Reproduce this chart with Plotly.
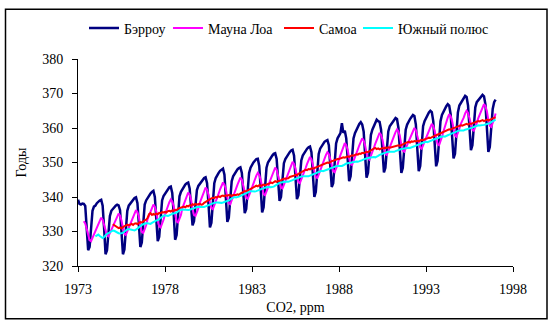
import plotly.graph_objects as go

# Monthly CO2 values (ppm)
barrow_start = (1973, 1)
barrow = [
    339.2, 338.0, 337.8, 338.1, 338.0, 337.4, 331.0, 324.6, 325.5, 332.0, 336.0, 337.2,  # 1973
    337.5, 338.2, 338.7, 339.0, 339.2, 337.5, 331.0, 323.4, 324.6, 330.5, 334.5, 336.0,  # 1974
    336.6, 337.0, 337.5, 337.8, 337.6, 336.2, 330.0, 323.4, 324.8, 332.0, 336.0, 337.5,  # 1975
    338.0, 338.8, 339.3, 339.7, 339.9, 338.2, 332.0, 325.5, 326.8, 333.5, 337.8, 339.0,  # 1976
    339.8, 340.5, 341.0, 341.5, 341.8, 340.0, 334.0, 327.2, 328.5, 335.0, 339.0, 340.3,  # 1977
    341.0, 341.8, 342.3, 342.8, 343.0, 341.2, 335.0, 327.6, 329.0, 336.0, 340.2, 341.5,  # 1978
    342.3, 343.0, 343.6, 344.0, 344.2, 342.5, 337.5, 331.8, 333.0, 338.5, 342.0, 343.2,  # 1979
    343.8, 344.5, 345.0, 345.5, 345.7, 344.0, 338.0, 331.2, 332.5, 339.5, 344.0, 345.5,  # 1980
    346.5, 347.0, 347.6, 348.0, 348.2, 346.5, 340.0, 332.8, 334.0, 340.5, 344.6, 346.0,  # 1981
    346.8, 347.5, 348.0, 348.4, 348.6, 347.0, 341.5, 335.3, 336.5, 343.0, 347.0, 348.5,  # 1982
    349.5, 350.0, 350.5, 351.0, 351.1, 349.0, 342.5, 335.5, 337.0, 344.0, 348.5, 350.0,  # 1983
    350.8, 351.5, 352.0, 352.5, 352.7, 351.0, 345.0, 338.9, 340.0, 346.0, 349.8, 351.0,  # 1984
    351.8, 352.5, 353.0, 353.5, 353.7, 352.0, 346.0, 339.4, 340.5, 347.0, 350.6, 352.0,  # 1985
    352.8, 353.4, 354.0, 354.4, 354.6, 353.0, 347.0, 340.0, 341.5, 348.0, 352.5, 354.0,  # 1986
    354.8, 355.4, 356.0, 356.3, 356.5, 355.0, 349.5, 342.9, 344.0, 351.0, 355.5, 357.0,  # 1987
    358.0, 358.5, 361.4, 358.6, 359.2, 357.0, 351.0, 344.6, 346.0, 352.5, 357.0, 358.5,  # 1988
    359.5, 360.5, 361.2, 361.7, 361.0, 359.0, 352.0, 345.6, 347.0, 353.5, 358.0, 359.5,  # 1989
    360.5, 361.5, 362.4, 362.0, 361.8, 359.5, 353.5, 347.1, 348.5, 354.5, 359.0, 360.5,  # 1990
    361.2, 361.8, 362.5, 362.9, 362.6, 360.0, 353.5, 347.0, 348.5, 355.0, 359.5, 361.0,  # 1991
    362.0, 362.6, 363.2, 363.8, 363.5, 361.0, 354.0, 347.5, 349.0, 355.5, 360.5, 362.0,  # 1992
    363.0, 363.8, 364.5, 365.0, 364.6, 362.0, 355.5, 348.9, 350.5, 357.5, 362.0, 363.8,  # 1993
    364.8, 365.5, 366.3, 366.9, 366.5, 364.0, 358.0, 351.2, 352.5, 359.5, 364.5, 366.5,  # 1994
    367.3, 368.0, 368.8, 369.3, 369.0, 366.5, 360.0, 353.6, 355.0, 361.5, 366.0, 367.5,  # 1995
    368.0, 368.8, 369.3, 369.6, 369.2, 366.8, 360.0, 353.1, 354.5, 361.0, 365.5, 367.5,  # 1996
    368.2,                                                                               # 1997
]

mauna_loa_start = (1973, 5)
mauna_loa = [
    333.0, 332.3, 330.8, 329.0, 327.5, 327.2, 328.2, 329.3,                              # 1973
    330.3, 331.1, 332.0, 333.2, 334.0, 333.4, 332.0, 330.6, 328.9, 328.6, 329.6, 330.6,  # 1974
    331.5, 332.3, 333.2, 334.4, 335.2, 334.6, 333.2, 331.0, 329.3, 329.0, 330.0, 331.0,  # 1975
    332.4, 333.3, 334.2, 335.4, 336.2, 335.6, 334.2, 331.6, 329.9, 329.6, 330.6, 331.8,  # 1976
    333.6, 334.8, 335.8, 337.0, 337.8, 337.2, 335.8, 333.2, 331.5, 331.2, 332.2, 333.4,  # 1977
    335.0, 336.3, 337.3, 338.5, 339.3, 338.7, 337.3, 334.6, 332.9, 332.6, 333.6, 334.8,  # 1978
    336.8, 338.0, 339.3, 340.5, 341.3, 340.7, 339.3, 336.5, 334.8, 334.5, 335.5, 336.7,  # 1979
    338.3, 339.4, 340.7, 341.9, 342.7, 342.1, 340.7, 338.5, 336.8, 336.5, 337.5, 338.7,  # 1980
    339.9, 341.0, 342.2, 343.4, 344.2, 343.6, 342.2, 339.9, 338.2, 337.9, 338.9, 340.1,  # 1981
    341.3, 342.4, 343.6, 344.8, 345.6, 345.0, 343.6, 341.5, 339.8, 339.5, 340.5, 341.7,  # 1982
    342.8, 343.8, 345.0, 346.2, 347.0, 346.4, 345.0, 342.5, 340.8, 340.5, 341.5, 342.7,  # 1983
    344.2, 345.3, 346.5, 347.7, 348.5, 347.9, 346.5, 344.5, 342.8, 342.5, 343.5, 344.7,  # 1984
    345.9, 347.0, 348.2, 349.4, 350.2, 349.6, 348.2, 346.0, 344.3, 344.0, 345.0, 346.2,  # 1985
    347.3, 348.4, 349.6, 350.8, 351.6, 351.0, 349.6, 347.5, 345.8, 345.5, 346.5, 347.7,  # 1986
    348.8, 349.9, 351.0, 352.2, 353.0, 352.4, 351.0, 349.2, 347.5, 347.2, 348.2, 349.4,  # 1987
    351.0, 352.2, 353.6, 354.8, 355.6, 355.0, 353.6, 351.3, 349.6, 349.3, 350.3, 351.5,  # 1988
    352.7, 353.8, 355.0, 356.2, 357.0, 356.4, 355.0, 352.8, 351.1, 350.8, 351.8, 353.0,  # 1989
    354.2, 355.4, 356.6, 357.8, 358.6, 358.0, 356.6, 354.2, 352.5, 352.2, 353.2, 354.4,  # 1990
    355.5, 356.6, 357.7, 358.8, 359.6, 359.0, 357.6, 355.1, 353.4, 353.1, 354.1, 355.2,  # 1991
    356.2, 357.2, 358.1, 359.2, 360.0, 359.4, 358.0, 356.0, 354.3, 354.0, 355.0, 356.1,  # 1992
    357.0, 358.0, 359.2, 360.4, 361.2, 360.6, 359.2, 357.0, 355.3, 355.0, 356.0, 357.4,  # 1993
    359.0, 360.5, 361.8, 363.0, 364.0, 363.4, 362.0, 359.5, 357.8, 357.5, 358.5, 359.8,  # 1994
    361.2, 362.0, 363.0, 364.2, 365.0, 364.4, 363.0, 361.2, 359.5, 359.2, 360.2, 361.4,  # 1995
    362.8, 363.8, 364.9, 366.1, 366.9, 366.3, 364.9, 362.3, 360.6, 360.3, 361.3, 362.6,  # 1996
    364.2,                                                                               # 1997
]

samoa_start = (1975, 1)
samoa = [
    332.1, 331.8, 331.5, 331.3, 331.0, 331.2, 330.9, 331.3, 331.5, 331.7, 332.0, 331.8,  # 1975
    332.0, 332.2, 331.9, 332.3, 332.4, 332.1, 332.5, 332.7, 332.6, 333.0, 333.2, 333.4,  # 1976
    334.0, 335.0, 335.3, 334.8, 335.1, 334.9, 335.2, 335.0, 335.4, 335.3, 335.6, 335.5,  # 1977
    335.7, 335.5, 335.9, 336.0, 335.8, 336.1, 336.0, 336.3, 336.2, 336.6, 336.8, 336.9,  # 1978
    337.0, 337.2, 337.0, 337.4, 337.3, 337.6, 337.5, 337.9, 337.7, 338.0, 337.8, 337.9,  # 1979
    338.0, 337.8, 337.9, 338.3, 338.6, 338.9, 339.2, 339.5, 339.6, 339.8, 339.7, 340.0,  # 1980
    339.9, 340.2, 340.0, 340.3, 340.4, 340.2, 340.5, 340.4, 340.6, 340.5, 340.3, 340.6,  # 1981
    340.5, 340.6, 340.8, 340.6, 341.0, 341.2, 341.4, 341.7, 341.6, 341.9, 342.1, 342.4,  # 1982
    342.6, 342.8, 343.0, 343.3, 343.1, 343.4, 343.2, 343.5, 343.6, 343.4, 343.7, 343.8,  # 1983
    343.9, 344.2, 344.0, 344.3, 344.6, 344.4, 344.7, 344.6, 345.0, 345.1, 345.3, 345.4,  # 1984
    345.5, 345.4, 345.8, 345.9, 346.0, 346.2, 346.5, 346.3, 346.7, 346.9, 347.2, 347.5,  # 1985
    347.6, 347.9, 347.8, 348.1, 348.0, 348.3, 348.2, 348.4, 348.5, 348.8, 349.0, 349.2,  # 1986
    349.3, 349.5, 349.6, 349.8, 350.0, 349.9, 350.2, 350.4, 350.5, 350.7, 350.8, 351.0,  # 1987
    351.0, 351.2, 351.3, 351.5, 351.4, 351.7, 351.8, 351.6, 351.9, 352.1, 352.0, 352.3,  # 1988
    352.4, 352.3, 352.6, 352.5, 352.8, 352.7, 352.9, 353.1, 353.0, 353.3, 353.5, 353.8,  # 1989
    354.0, 354.2, 353.9, 354.1, 353.8, 354.0, 354.2, 354.1, 354.3, 354.2, 354.4, 354.3,  # 1990
    354.4, 354.6, 354.5, 354.8, 354.9, 355.0, 354.8, 355.1, 355.3, 355.5, 355.7, 355.9,  # 1991
    356.0, 355.8, 356.1, 356.0, 356.2, 356.1, 356.3, 356.2, 356.4, 356.6, 356.5, 356.8,  # 1992
    356.9, 357.0, 357.2, 357.1, 357.4, 357.6, 357.8, 357.9, 358.1, 358.3, 358.4, 358.6,  # 1993
    358.8, 359.0, 359.2, 359.4, 359.6, 359.5, 359.8, 360.0, 360.1, 360.3, 360.5, 360.6,  # 1994
    360.8, 360.7, 360.9, 361.0, 361.2, 361.0, 361.3, 361.2, 361.4, 361.6, 361.7, 361.9,  # 1995
    362.0, 361.9, 362.1, 362.3, 362.0, 362.2, 362.4, 362.2, 362.5, 362.6, 362.8, 362.9,  # 1996
    363.1,                                                                               # 1997
]

south_pole_start = (1974, 1)
south_pole = [
    328.6, 328.9, 329.1, 328.7, 328.3, 328.1, 328.4, 328.9, 329.3, 329.5, 329.8, 330.1,  # 1974
    330.3, 330.2, 329.9, 329.6, 329.5, 329.4, 329.5, 329.6, 330.0, 330.4, 330.6, 330.7,  # 1975
    330.7, 330.5, 330.4, 330.3, 330.5, 330.9, 331.4, 331.8, 331.9, 332.1, 332.3, 332.4,  # 1976
    332.4, 332.3, 332.2, 332.5, 332.8, 333.0, 333.2, 333.3, 333.6, 334.0, 334.4, 334.6,  # 1977
    334.7, 334.6, 334.5, 334.7, 335.0, 335.1, 335.2, 335.3, 335.5, 335.8, 336.1, 336.3,  # 1978
    336.4, 336.3, 336.2, 336.1, 336.2, 336.3, 336.4, 336.5, 336.7, 336.9, 337.1, 337.2,  # 1979
    337.2, 337.1, 337.0, 337.1, 337.3, 337.4, 337.6, 337.8, 338.0, 338.2, 338.3, 338.4,  # 1980
    338.4, 338.3, 338.2, 338.3, 338.4, 338.5, 338.6, 338.8, 339.0, 339.3, 339.6, 339.9,  # 1981
    340.0, 339.9, 339.9, 340.1, 340.3, 340.5, 340.8, 341.0, 341.2, 341.4, 341.6, 341.7,  # 1982
    341.7, 341.6, 341.6, 341.7, 341.9, 342.1, 342.3, 342.5, 342.6, 342.7, 342.8, 342.9,  # 1983
    342.9, 342.8, 342.8, 343.0, 343.3, 343.6, 343.9, 344.1, 344.2, 344.3, 344.4, 344.5,  # 1984
    344.5, 344.4, 344.5, 344.7, 344.9, 345.1, 345.3, 345.4, 345.5, 345.7, 345.9, 346.0,  # 1985
    346.0, 345.9, 345.9, 346.0, 346.2, 346.4, 346.5, 346.7, 346.9, 347.2, 347.4, 347.6,  # 1986
    347.6, 347.5, 347.6, 347.8, 347.9, 348.1, 348.3, 348.5, 348.7, 348.8, 348.9, 349.0,  # 1987
    349.0, 348.9, 349.0, 349.2, 349.5, 349.7, 349.8, 349.9, 350.0, 350.1, 350.2, 350.3,  # 1988
    350.3, 350.2, 350.3, 350.5, 350.7, 350.9, 351.1, 351.2, 351.3, 351.4, 351.5, 351.6,  # 1989
    351.6, 351.5, 351.6, 351.9, 352.2, 352.4, 352.6, 352.8, 352.9, 353.0, 353.1, 353.1,  # 1990
    353.1, 353.0, 353.1, 353.3, 353.5, 353.6, 353.7, 353.9, 354.0, 354.1, 354.2, 354.3,  # 1991
    354.3, 354.2, 354.3, 354.5, 354.7, 354.9, 355.0, 355.2, 355.4, 355.6, 355.8, 355.9,  # 1992
    356.0, 355.9, 356.0, 356.2, 356.4, 356.6, 356.7, 356.8, 357.0, 357.2, 357.4, 357.6,  # 1993
    357.6, 357.5, 357.6, 357.9, 358.1, 358.3, 358.5, 358.7, 358.9, 359.1, 359.2, 359.3,  # 1994
    359.3, 359.2, 359.3, 359.5, 359.6, 359.6, 359.7, 359.9, 360.1, 360.3, 360.5, 360.7,  # 1995
    360.8, 360.7, 360.7, 360.8, 360.9, 361.0, 361.1, 361.2, 361.4, 361.7, 362.0, 362.2,  # 1996
    362.4,                                                                               # 1997
]

series_names = ["Бэрроу", "Мауна Лоа", "Самоа", "Южный полюс"]
series_colors = ["#000080", "#FF00FF", "#FF0000", "#00FFFF"]
x_ticks = [1973, 1978, 1983, 1988, 1993, 1998]
y_ticks = [320, 330, 340, 350, 360, 370, 380]
x_title = "CO2, ppm"
y_title = "Годы"


def month_axis(start, n):
    y0, m0 = start
    return [y0 + (m0 - 1 + i) / 12 for i in range(n)]


all_series = [
    (barrow_start, barrow),
    (mauna_loa_start, mauna_loa),
    (samoa_start, samoa),
    (south_pole_start, south_pole),
]

FONT = "Liberation Serif"

fig = go.Figure()
legend_ids = ["legend", "legend2", "legend3", "legend4"]
for k, ((start, vals), name, color) in enumerate(zip(all_series, series_names, series_colors)):
    fig.add_trace(go.Scatter(
        x=month_axis(start, len(vals)), y=vals, mode="lines", name=name,
        line=dict(color=color, width=2.5 if k == 0 else 2),
        legend=legend_ids[k],
    ))

# plot area in pixels: x 78..513, y 56..266
L, R, T, B = 78, 513, 56, 266
W, H = 552, 326
pw, ph = R - L, B - T

def px(x):
    return (x - L) / pw

def py(y):
    return (B - y) / ph

legend_line_starts = [92, 176, 287, 366]
legend_common = dict(orientation="h", yanchor="middle", xanchor="left",
                     font=dict(family=FONT, size=14, color="black"),
                     bgcolor="rgba(0,0,0,0)", borderwidth=0, itemwidth=30,
                     tracegroupgap=0)
lay_legends = {}
for lid, xs in zip(legend_ids, legend_line_starts):
    lay_legends[lid] = dict(x=px(xs - 8), y=py(25), **legend_common)

fig.update_layout(
    width=W, height=H,
    margin=dict(l=L, r=W - R, t=T, b=H - B),
    paper_bgcolor="white", plot_bgcolor="white",
    font=dict(family=FONT, size=13, color="black"),
    showlegend=True,
    **lay_legends,
    xaxis=dict(range=[1973, 1998], tickvals=x_ticks, ticks="outside", ticklen=5,
               tickcolor="black", showline=True, linecolor="black", linewidth=1,
               showgrid=False, zeroline=False, ticklabelstandoff=5,
               tickfont=dict(family=FONT, size=14),
               title=dict(text=x_title, font=dict(family=FONT, size=14), standoff=6)),
    yaxis=dict(range=[320, 380], tickvals=y_ticks, ticks="outside", ticklen=5,
               tickcolor="black", showline=True, linecolor="black", linewidth=1,
               showgrid=False, zeroline=False, ticklabelstandoff=6,
               tickfont=dict(family=FONT, size=14),
               title=dict(text=y_title, font=dict(family=FONT, size=14), standoff=12)),
    shapes=[dict(type="rect", xref="paper", yref="paper",
                 x0=px(5.5), x1=px(547), y0=py(319.5), y1=py(5.5),
                 line=dict(color="black", width=1.5), layer="below")],
)

fig.write_html("out.html")
